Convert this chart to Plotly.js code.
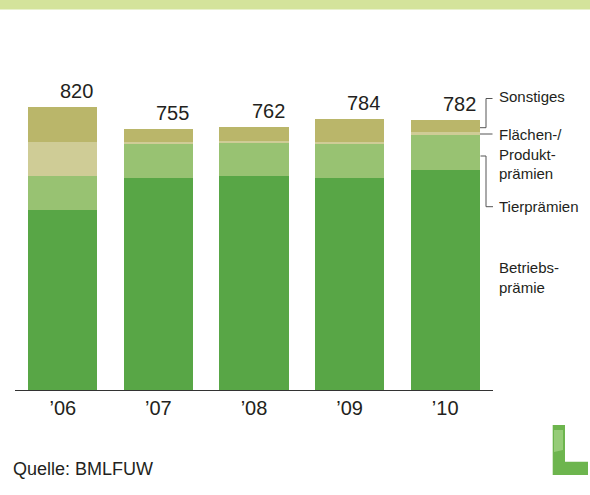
<!DOCTYPE html>
<html><head><meta charset="utf-8">
<script src="https://cdn.plot.ly/plotly-3.0.1.min.js"></script>
<style>html,body{margin:0;padding:0;background:#fff;}</style>
</head><body><div id="chart" style="width:590px;height:495px;"></div>
<script>
const years = ["’06", "’07", "’08", "’09", "’10"];
const betriebspraemie = [522, 615, 619, 615, 636];
const tierpraemien = [98, 96, 95, 96, 101];
const flaechenProdukt = [98, 7, 7, 7, 9];
const sonstiges = [102, 37, 41, 66, 36];
const totals = [820, 755, 762, 784, 782];

const FONT = "Liberation Sans, Arial, sans-serif";
const TXT = "#231f20";
// pixel -> paper helpers (plot area x 15..493, y 40..390)
const L = 15, R = 493, T = 40, B = 390;
const px = x => (x - L) / (R - L);
const py = y => (B - y) / (B - T);

const mk = (name, vals, color) => ({type: "bar", name, x: years, y: vals,
  marker: {color, line: {width: 0}}, hoverinfo: "y+name"});

const data = [
  mk("Betriebsprämie", betriebspraemie, "#58a646"),
  mk("Tierprämien", tierpraemien, "#98c272"),
  mk("Flächen-/Produktprämien", flaechenProdukt, "#cfcc96"),
  mk("Sonstiges", sonstiges, "#bab66a")
];

const annotations = totals.map((t, i) => ({
  x: years[i], y: t, xref: "x", yref: "y", text: String(t), showarrow: false,
  xanchor: "center", yanchor: "bottom", xshift: 14, yshift: 3,
  font: {family: FONT, size: 20, color: TXT}
}));

const lab = (text, y) => ({xref: "paper", yref: "paper", x: px(497), y: py(y),
  text, showarrow: false, xanchor: "left", yanchor: "middle", align: "left",
  font: {family: FONT, size: 15, color: TXT}});
annotations.push(lab("Sonstiges", 97));
annotations.push(lab("Flächen-/<br>Produkt-<br>prämien", 154));
annotations.push(lab("Tierprämien", 207));
annotations.push(lab("Betriebs-<br>prämie", 277));
annotations.push({xref: "paper", yref: "paper", x: px(11), y: py(469), text: "Quelle: BMLFUW",
  showarrow: false, xanchor: "left", yanchor: "middle",
  font: {family: FONT, size: 18, color: TXT}});

const pathP = pts => "M " + pts.map(p => px(p[0]) + "," + py(p[1])).join(" L ");
const lineStyle = {color: "#555555", width: 1};
const shapes = [
  {type: "rect", xref: "paper", yref: "paper", x0: px(0), x1: px(590), y0: py(0), y1: py(9.5),
    fillcolor: "#d4e39b", line: {width: 0}, layer: "below"},
  {type: "path", xref: "paper", yref: "paper", path: pathP([[492.5,98.5],[486,98.5],[486,127.7],[480,127.7]]), line: lineStyle},
  {type: "path", xref: "paper", yref: "paper", path: pathP([[480,134],[492.5,134]]), line: lineStyle},
  {type: "path", xref: "paper", yref: "paper", path: pathP([[480.5,156],[486,156],[486,206.7],[493,206.7]]), line: lineStyle},
  // logo
  {type: "path", xref: "paper", yref: "paper",
    path: pathP([[552.7,425],[565,425],[565,461.7],[588,461.7],[588,475],[552.7,475]]) + " Z",
    fillcolor: "#6db54e", line: {width: 0}},
  {type: "path", xref: "paper", yref: "paper",
    path: pathP([[554,430],[563,430],[563,450],[554,452]]) + " Z",
    fillcolor: "#a8d68a", line: {width: 0}, opacity: 0.7}
];

const layout = {
  width: 590, height: 495, barmode: "stack", bargap: 0.277, showlegend: false,
  paper_bgcolor: "#fff", plot_bgcolor: "#fff",
  margin: {l: L, r: 590 - R, t: T, b: 495 - B},
  xaxis: {type: "category", range: [-0.5, 4.5], showline: true, linecolor: "#333", linewidth: 1,
    ticks: "", showgrid: false, zeroline: false, fixedrange: true,
    tickfont: {family: FONT, size: 20, color: TXT}},
  yaxis: {range: [0, 1013], visible: false, showgrid: false, zeroline: false, fixedrange: true},
  annotations, shapes,
  font: {family: FONT, color: TXT}
};
Plotly.newPlot("chart", data, layout, {displayModeBar: false, staticPlot: true});
</script></body></html>
